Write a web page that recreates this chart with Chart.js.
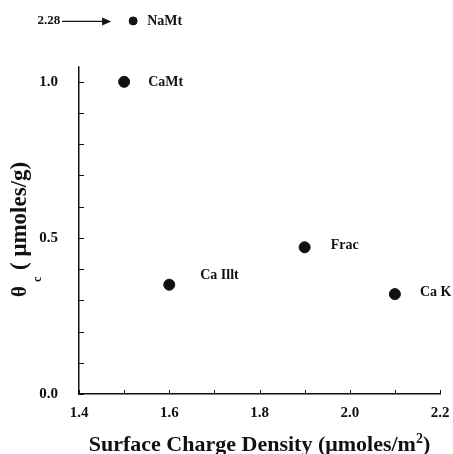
<!DOCTYPE html>
<html><head><meta charset="utf-8">
<script src="https://cdn.jsdelivr.net/npm/chart.js@4"></script>
<style>html,body{margin:0;padding:0;background:#fff}#wrap{width:453px;height:454px}</style>
</head><body><div id="wrap"><canvas id="c" width="453" height="454"></canvas></div>
<script>
// ---- data ----
const sampleNames = ["CaMt", "Ca Illt", "Frac", "Ca K"];
const chargeDensity = [1.50, 1.60, 1.90, 2.10];   // µmoles/m²
const thetaC = [1.00, 0.35, 0.47, 0.32];          // µmoles/g
// off-scale point (true value 2.28) shown above the axis break
const offName = ["NaMt"];
const offX = [1.52];
const offShownY = [1.195];
const offTrueLabel = ["2.28"];
const xTicks = [1.4, 1.6, 1.8, 2.0, 2.2];
const yTicks = [0.0, 0.5, 1.0];
const yAxisTop = 1.05;
const minorStep = 0.1;

const SERIF = '"Liberation Serif", "DejaVu Serif", serif';
const labelDx = [24, 31, 26, 25];
const labelDy = [1, -9, -2, -2];

const decor = {
  id: 'decor',
  afterDatasetsDraw(chart) {
    const ctx = chart.ctx, xs = chart.scales.x, ys = chart.scales.y;
    ctx.save();
    ctx.strokeStyle = '#111'; ctx.fillStyle = '#111';
    // y axis line up to the break
    ctx.lineWidth = 1.5;
    const ax = xs.left - 0.25;
    ctx.beginPath(); ctx.moveTo(ax, ys.getPixelForValue(0) + 0.75); ctx.lineTo(ax, ys.getPixelForValue(yAxisTop)); ctx.stroke();
    ctx.lineWidth = 1;
    // minor ticks (inward)
    for (let v = 0; v <= yAxisTop + 1e-9; v += minorStep) {
      const p = Math.round(ys.getPixelForValue(v)) + 0.5;
      ctx.beginPath(); ctx.moveTo(xs.left, p); ctx.lineTo(xs.left + 5, p); ctx.stroke();
    }
    for (let v = xs.min; v <= xs.max + 1e-9; v += minorStep) {
      const p = Math.round(xs.getPixelForValue(v)) + 0.5;
      ctx.beginPath(); ctx.moveTo(p, ys.bottom); ctx.lineTo(p, ys.bottom - 4); ctx.stroke();
    }
    // point labels
    ctx.font = 'bold 14px ' + SERIF;
    ctx.textBaseline = 'middle'; ctx.textAlign = 'left';
    sampleNames.forEach((n, i) => {
      const px = xs.getPixelForValue(chargeDensity[i]);
      const py = ys.getPixelForValue(thetaC[i]);
      ctx.fillText(n, px + labelDx[i], py + labelDy[i]);
    });
    offName.forEach((n, i) => {
      const px = xs.getPixelForValue(offX[i]);
      const py = ys.getPixelForValue(offShownY[i]);
      ctx.font = 'bold 14px ' + SERIF;
      ctx.fillText(n, px + 14, py);
      ctx.font = 'bold 13px ' + SERIF;
      ctx.textAlign = 'right';
      ctx.fillText(offTrueLabel[i], px - 73, py);
      ctx.textAlign = 'left';
      // arrow
      ctx.lineWidth = 1.2;
      ctx.beginPath(); ctx.moveTo(px - 71, py + 0.5); ctx.lineTo(px - 28, py + 0.5); ctx.stroke();
      ctx.beginPath(); ctx.moveTo(px - 22, py + 0.5); ctx.lineTo(px - 31, py - 3.5); ctx.lineTo(px - 31, py + 4.5); ctx.closePath(); ctx.fill();
    });
    // y title
    ctx.save();
    ctx.translate(26, 297);
    ctx.rotate(-Math.PI / 2);
    ctx.textAlign = 'left'; ctx.textBaseline = 'alphabetic';
    ctx.font = 'bold 21px ' + SERIF;
    ctx.fillText('θ', 0, 0);
    ctx.font = 'bold 12px ' + SERIF;
    ctx.fillText('c', 15, 15);
    ctx.font = 'bold 23px ' + SERIF;
    ctx.fillText('( μmoles/g)', 27, 0);
    ctx.restore();
    // x title
    ctx.textBaseline = 'alphabetic';
    ctx.font = 'bold 22px ' + SERIF;
    const t1 = 'Surface Charge Density (μmoles/m';
    const w1 = ctx.measureText(t1).width;
    ctx.font = 'bold 14px ' + SERIF;
    const w2 = ctx.measureText('2').width;
    ctx.font = 'bold 22px ' + SERIF;
    const w3 = ctx.measureText(')').width;
    const cx = (xs.left + xs.right) / 2;
    const x0 = cx - (w1 + w2 + w3) / 2;
    ctx.textAlign = 'left';
    ctx.fillText(t1, x0, 451);
    ctx.font = 'bold 14px ' + SERIF;
    ctx.fillText('2', x0 + w1, 443);
    ctx.font = 'bold 22px ' + SERIF;
    ctx.fillText(')', x0 + w1 + w2, 451);
    ctx.restore();
  }
};

const hiddenTicks = { display: true, drawOnChartArea: false, drawTicks: true, color: 'rgba(0,0,0,0)' };

new Chart(document.getElementById('c'), {
  type: 'scatter',
  data: {
    datasets: [
      { data: chargeDensity.map((x, i) => ({ x, y: thetaC[i] })),
        backgroundColor: '#111', borderColor: '#111', pointRadius: 5.5, pointHoverRadius: 5.5 },
      { data: offX.map((x, i) => ({ x, y: offShownY[i] })),
        backgroundColor: '#111', borderColor: '#111', pointRadius: 4, pointHoverRadius: 4 }
    ]
  },
  plugins: [decor],
  options: {
    responsive: false, animation: false,
    layout: { padding: { top: 10, right: 13, left: 0, bottom: 0 } },
    plugins: { legend: { display: false }, tooltip: { enabled: false } },
    scales: {
      x: {
        type: 'linear', min: 1.4, max: 2.2,
        afterFit(s) { s.height = 60; },
        afterBuildTicks(s) { s.ticks = xTicks.map(v => ({ value: v })); },
        grid: Object.assign({}, hiddenTicks, { tickLength: 10 }),
        border: { display: true, color: '#111', width: 1.5 },
        ticks: { color: '#111', padding: 0, maxRotation: 0, font: { family: SERIF, weight: 'bold', size: 15 },
                 callback: v => v.toFixed(1) }
      },
      y: {
        type: 'linear', min: 0, max: 1.23,
        afterFit(s) { s.width = 79; },
        afterBuildTicks(s) { s.ticks = yTicks.map(v => ({ value: v })); },
        grid: Object.assign({}, hiddenTicks, { tickLength: 21 }),
        border: { display: false },
        ticks: { color: '#111', padding: 0, font: { family: SERIF, weight: 'bold', size: 15 },
                 callback: v => v.toFixed(1) }
      }
    }
  }
});
</script>
</body></html>
